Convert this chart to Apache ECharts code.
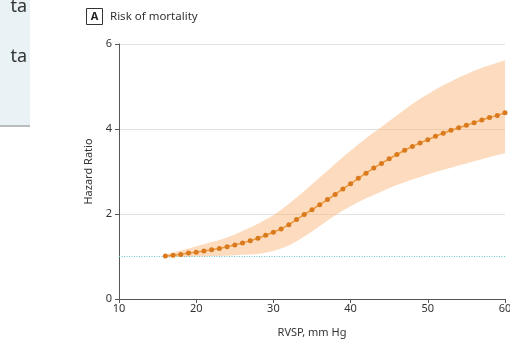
<!DOCTYPE html>
<html>
<head>
<meta charset="utf-8">
<script src="https://cdn.jsdelivr.net/npm/echarts@6/dist/echarts.min.js"></script>
<style>
  html, body { margin: 0; padding: 0; background: #fff; }
  #chart { width: 510px; height: 341px; }
</style>
</head>
<body>
<div id="chart"></div>
<script>
// RVSP (mm Hg) for each plotted point
const rvsp = [16, 17, 18, 19, 20, 21, 22, 23, 24, 25, 26, 27, 28, 29, 30, 31, 32, 33, 34, 35, 36, 37, 38,
  39, 40, 41, 42, 43, 44, 45, 46, 47, 48, 49, 50, 51, 52, 53, 54, 55, 56, 57, 58, 59, 60]
const hazard = [1.01, 1.03, 1.05, 1.08, 1.10, 1.13, 1.16, 1.19, 1.23, 1.27, 1.32, 1.37, 1.43, 1.50, 1.57,
  1.65, 1.75, 1.87, 1.99, 2.10, 2.22, 2.34, 2.46, 2.59, 2.71, 2.84, 2.96, 3.08, 3.19, 3.30, 3.40, 3.50,
  3.59, 3.67, 3.75, 3.83, 3.90, 3.97, 4.03, 4.09, 4.15, 4.21, 4.27, 4.32, 4.38]
const ciLower = [0.97, 0.98, 0.99, 0.99, 1.00, 1.00, 1.01, 1.01, 1.02, 1.03, 1.04, 1.05, 1.06, 1.09, 1.13,
  1.19, 1.26, 1.36, 1.47, 1.59, 1.72, 1.85, 1.97, 2.08, 2.18, 2.28, 2.37, 2.45, 2.53, 2.61, 2.68, 2.75,
  2.81, 2.87, 2.93, 2.99, 3.04, 3.09, 3.14, 3.19, 3.24, 3.29, 3.34, 3.39, 3.43]
const ciUpper = [1.05, 1.09, 1.14, 1.19, 1.24, 1.29, 1.34, 1.39, 1.45, 1.52, 1.60, 1.68, 1.77, 1.87, 1.97,
  2.10, 2.24, 2.39, 2.54, 2.70, 2.86, 3.02, 3.18, 3.34, 3.49, 3.64, 3.78, 3.92, 4.05, 4.19, 4.32, 4.46,
  4.59, 4.71, 4.82, 4.93, 5.03, 5.12, 5.21, 5.29, 5.37, 5.44, 5.50, 5.56, 5.62]
const xTicks = [10, 60, 10]   // min, max, interval
const yTicks = [0, 6, 2]
const refLevel = 1

const font = '"Noto Sans", "Open Sans", sans-serif'
const chart = echarts.init(document.getElementById('chart'))

// confidence band: one polygon, upper edge forward then lower edge back
function renderBand(params, api) {
  const pts = []
  rvsp.forEach((x, i) => pts.push(api.coord([x, ciUpper[i]])))
  for (let i = rvsp.length - 1; i >= 0; i--) pts.push(api.coord([rvsp[i], ciLower[i]]))
  return {
    type: 'polygon',
    shape: { points: pts },
    style: { fill: 'rgba(250, 175, 110, 0.45)' },
  }
}

chart.setOption({
  animation: false,
  textStyle: { fontFamily: font },
  grid: { left: 119, right: 5, top: 44, bottom: 42, outerBoundsMode: 'none' },
  graphic: [
    { type: 'rect', shape: { x: 0, y: 0, width: 30, height: 125 }, style: { fill: '#e9f3f6' } },
    { type: 'rect', shape: { x: 0, y: 125, width: 30, height: 2 }, style: { fill: '#b9bcbe' } },
    { type: 'text', x: 27, y: 7, style: { text: 'ta', font: '18px ' + font, fill: '#333', align: 'right', verticalAlign: 'middle' } },
    { type: 'text', x: 27, y: 57, style: { text: 'ta', font: '18px ' + font, fill: '#333', align: 'right', verticalAlign: 'middle' } },
    { type: 'rect', shape: { x: 86.5, y: 8.5, width: 16, height: 16 }, style: { fill: '#fff', stroke: '#333', lineWidth: 1 } },
    { type: 'text', x: 94.5, y: 16.5, style: { text: 'A', font: 'bold 11px ' + font, fill: '#222', align: 'center', verticalAlign: 'middle' } },
    { type: 'text', x: 110, y: 16.5, style: { text: 'Risk of mortality', font: '11.5px ' + font, fill: '#333', verticalAlign: 'middle' } },
  ],
  xAxis: {
    type: 'value',
    min: xTicks[0], max: xTicks[1], interval: xTicks[2],
    name: 'RVSP, mm Hg', nameLocation: 'middle', nameGap: 28,
    nameTextStyle: { fontSize: 11, color: '#333' },
    axisLine: { lineStyle: { color: '#555', width: 1 } },
    axisTick: { show: true, length: 4, lineStyle: { color: '#555' } },
    axisLabel: { fontSize: 11, color: '#333', margin: 4 },
    splitLine: { show: false },
  },
  yAxis: {
    type: 'value',
    min: yTicks[0], max: yTicks[1], interval: yTicks[2],
    name: 'Hazard Ratio', nameLocation: 'middle', nameGap: 17,
    nameTextStyle: { fontSize: 11, color: '#333' },
    axisLine: { show: true, lineStyle: { color: '#555', width: 1 } },
    axisTick: { show: true, length: 4, lineStyle: { color: '#555' } },
    axisLabel: { fontSize: 11, color: '#333', margin: 7 },
    splitLine: { show: true, lineStyle: { color: '#e2e2e2', width: 1 } },
  },
  series: [
    {
      type: 'custom', silent: true, z: 1,
      renderItem: renderBand,
      data: [0],
      markLine: {
        silent: true, symbol: 'none', label: { show: false },
        lineStyle: { color: '#6cc6d4', type: [1, 1.5], width: 1 },
        data: [{ yAxis: refLevel }],
      },
    },
    {
      type: 'line', symbol: 'circle', symbolSize: 5, z: 5,
      lineStyle: { color: '#ef9a3a', width: 1.5 },
      itemStyle: { color: '#da7a1e' },
      data: rvsp.map((x, i) => [x, hazard[i]]),
    },
  ],
})
</script>
</body>
</html>
